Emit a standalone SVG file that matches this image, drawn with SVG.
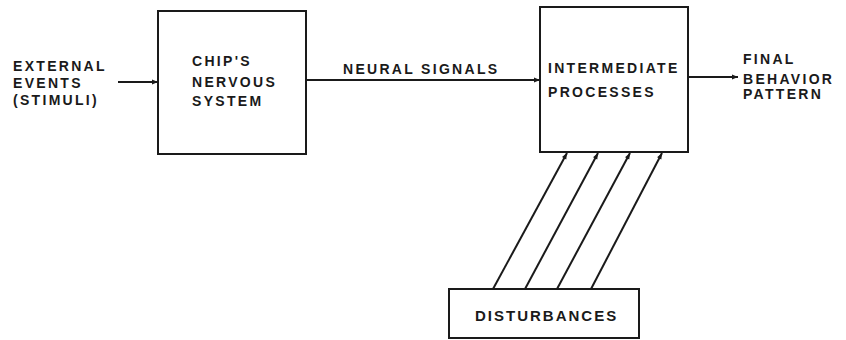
<svg xmlns="http://www.w3.org/2000/svg" width="846" height="340" viewBox="0 0 846 340">
<style>
.box{fill:#fff;stroke:#1a1a1a;stroke-width:2}
.lbl{font-family:"Liberation Sans",Arial,sans-serif;font-weight:bold;font-size:14px;fill:#1a1a1a;letter-spacing:2.3px}
.big{font-size:15px;letter-spacing:2px}
.con{stroke:#1a1a1a;stroke-width:2;fill:none;marker-end:url(#ah)}
</style>
<defs>
<marker id="ah" viewBox="0 0 10 10" refX="10" refY="5" markerWidth="7" markerHeight="6" markerUnits="userSpaceOnUse" orient="auto">
<path d="M0,1 L10,5 L0,9 z" fill="#1a1a1a"/>
</marker>
</defs>
<rect width="846" height="340" fill="#fff"/>
<g id="external">
<text class="lbl" x="13" y="71">EXTERNAL</text>
<text class="lbl" x="13" y="88">EVENTS</text>
<text class="lbl" x="13" y="105">(STIMULI)</text>
</g>
<g id="chip">
<rect class="box" x="158" y="11" width="148" height="143"/>
<text class="lbl" x="192" y="66">CHIP'S</text>
<text class="lbl" x="192" y="87">NERVOUS</text>
<text class="lbl" x="192" y="106">SYSTEM</text>
</g>
<g id="intermediate">
<rect class="box" x="540" y="7" width="148" height="145"/>
<text class="lbl" x="548" y="73">INTERMEDIATE</text>
<text class="lbl" x="548" y="97">PROCESSES</text>
</g>
<g id="final">
<text class="lbl" x="743" y="64">FINAL</text>
<text class="lbl" x="743" y="84">BEHAVIOR</text>
<text class="lbl" x="743" y="99">PATTERN</text>
</g>
<g id="disturbances">
<rect class="box" x="449" y="289" width="190" height="49"/>
<text class="lbl big" x="475" y="321">DISTURBANCES</text>
</g>
<g id="connectors">
<line class="con" x1="118" y1="82" x2="158" y2="82"/>
<line class="con" x1="306" y1="80" x2="540" y2="80"/>
<text class="lbl" x="343" y="74">NEURAL SIGNALS</text>
<line class="con" x1="688" y1="77" x2="738" y2="77"/>
<line class="con" x1="493" y1="289" x2="567" y2="153"/>
<line class="con" x1="525" y1="289" x2="598" y2="153"/>
<line class="con" x1="557" y1="289" x2="630" y2="153"/>
<line class="con" x1="591" y1="289" x2="662" y2="153"/>
</g>
</svg>
